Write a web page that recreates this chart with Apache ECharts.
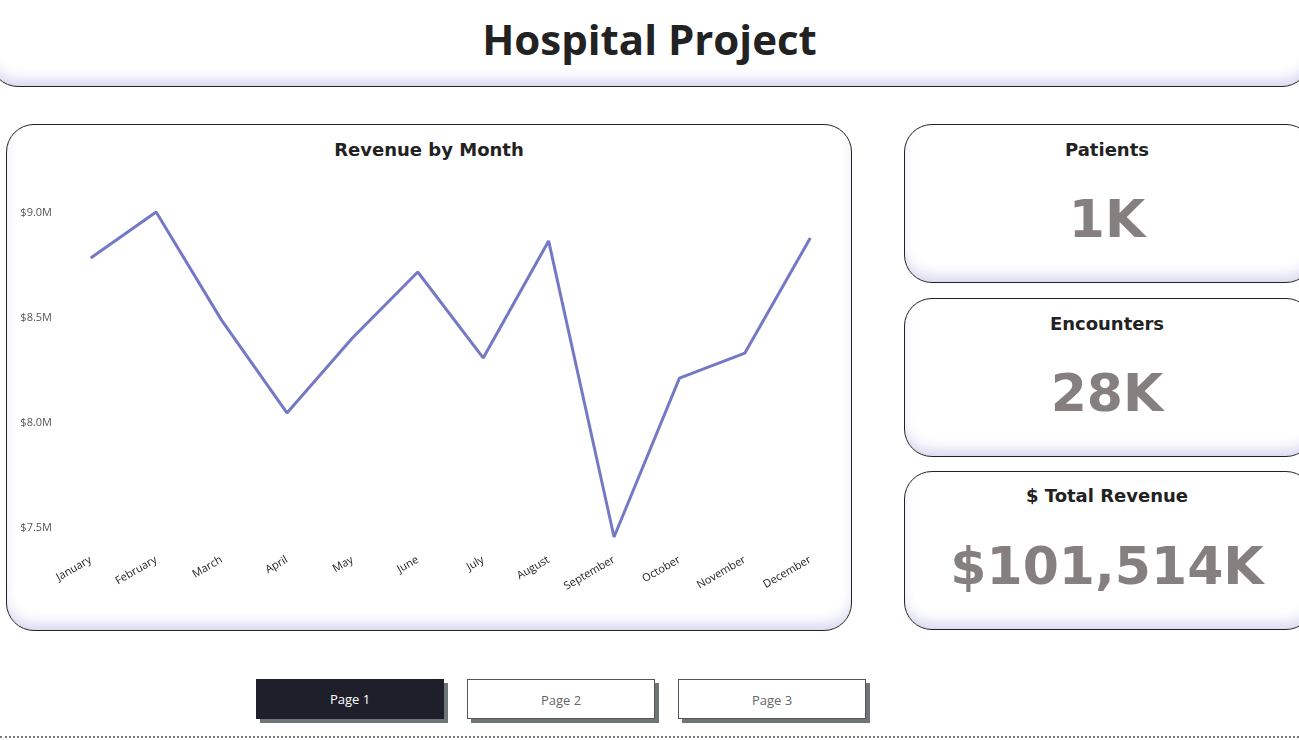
<!DOCTYPE html>
<html><head><meta charset="utf-8">
<script src="https://cdn.jsdelivr.net/npm/echarts@6/dist/echarts.min.js"></script>
<style>
body{margin:0;width:1299px;height:740px;background:#fff;font-family:"DejaVu Sans",sans-serif;position:relative;overflow:hidden}
.card{position:absolute;background:#fff;border:1px solid #222;border-radius:28px;box-shadow:inset 0 -10px 14px -4px #d6d6ef;box-sizing:border-box}
.title{position:absolute;left:0;right:0;text-align:center;font-weight:bold;color:#222}
.kpi{position:absolute;left:0;right:0;text-align:center;font-family:"DejaVu Sans",sans-serif;font-weight:bold;color:#857f80}
.btn{position:absolute;top:679px;width:188px;height:40px;box-sizing:border-box;font-family:"Open Sans",sans-serif;font-size:13px;text-align:center;line-height:40px;box-shadow:4px 4px 0 #6e7577}
</style></head><body>
<div class="card" style="left:-10px;top:-30px;width:1320px;height:117px;border-radius:0 0 28px 28px"></div>
<div class="title" style="top:10px;font-size:42px;font-family:'Open Sans',sans-serif">Hospital Project</div>

<div class="card" style="left:6px;top:124px;width:846px;height:507px"></div>
<div class="title" style="left:6px;width:846px;top:139px;font-size:18px">Revenue by Month</div>
<div id="c" style="position:absolute;left:6px;top:124px;width:846px;height:507px"></div>

<div class="card" style="left:904px;top:124px;width:410px;height:159px"><div class="title" style="top:14px;width:404px;font-size:18px">Patients</div><div class="kpi" style="width:404px;top:64px;font-size:52px">1K</div></div>
<div class="card" style="left:904px;top:298px;width:410px;height:159px"><div class="title" style="top:14px;width:404px;font-size:18px">Encounters</div><div class="kpi" style="width:404px;top:64px;font-size:52px">28K</div></div>
<div class="card" style="left:904px;top:471px;width:410px;height:159px"><div class="title" style="top:13px;width:404px;font-size:18px">$ Total Revenue</div><div class="kpi" style="width:404px;top:64px;font-size:52px">$101,514K</div></div>

<div class="btn" style="left:256px;background:#1f1f2c;color:#fff">Page 1</div>
<div class="btn" style="left:467px;background:#fff;color:#666;border:1px solid #555">Page 2</div>
<div class="btn" style="left:678px;background:#fff;color:#666;border:1px solid #555">Page 3</div>
<div style="position:absolute;left:0;right:0;top:736px;border-top:2px dotted #777"></div>
<script>
const months=["January","February","March","April","May","June","July","August","September","October","November","December"];
const revenue=[8.786,9.005,8.49,8.048,8.405,8.719,8.31,8.867,7.457,8.214,8.333,8.881];
const ch=echarts.init(document.getElementById('c'));
ch.setOption({animation:false,
grid:{left:52,right:9,top:47,bottom:82},
xAxis:{type:'category',data:months,axisLine:{show:false},axisTick:{show:false},
 axisLabel:{rotate:30,interval:0,color:'#222',fontSize:11,fontFamily:'Open Sans',margin:10}},
yAxis:{type:'value',min:7.4,max:9.2,interval:0.1,splitLine:{show:false},
 axisLabel:{color:'#555',fontSize:11,fontFamily:'Open Sans',margin:6,
  formatter:v=>{const r=Math.round(v*10);return r%5===0?'$'+(r/10).toFixed(1)+'M':'';}}},
series:[{type:'line',data:revenue,symbol:'none',lineStyle:{color:'#7479c6',width:3}}]});
</script></body></html>
